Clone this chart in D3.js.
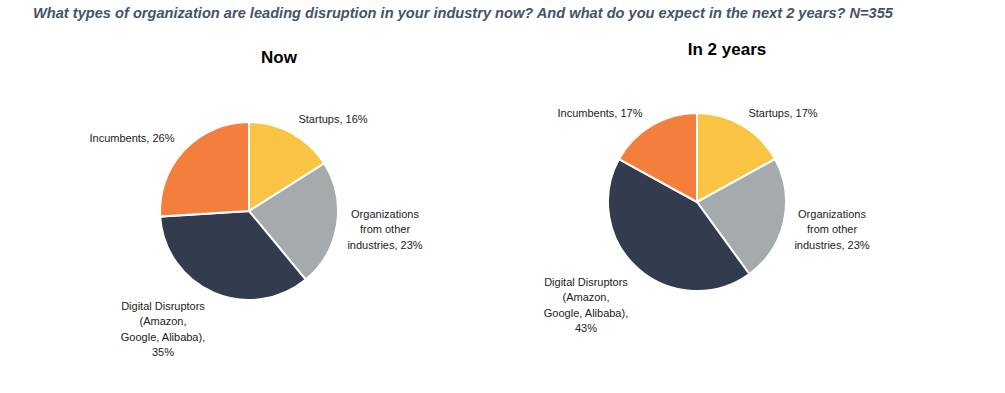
<!DOCTYPE html>
<meta charset="utf-8">
<style>
  body { margin: 0; background: #fff; }
  .label { font: 11px "Liberation Sans", sans-serif; fill: #222; }
  .ptitle { font: bold 17px "Liberation Sans", sans-serif; fill: #000; text-anchor: middle; }
</style>
<svg width="1005" height="393"></svg>
<script src="https://cdn.jsdelivr.net/npm/d3@7/dist/d3.min.js"></script>
<script>

  // data
  var categories = ["Startups", "Organizations from other industries", "Digital Disruptors (Amazon, Google, Alibaba)", "Incumbents"];
  var nowValues = [16, 23, 35, 26];
  var twoYearValues = [17, 23, 43, 17];
  var colors = ["#F9C343", "#A5AAAD", "#333B4E", "#F47F3C"];

  // label text lines for each chart
  var nowLabels = [
    ["Startups, 16%"],
    ["Organizations", "from other", "industries, 23%"],
    ["Digital Disruptors", "(Amazon,", "Google, Alibaba),", "35%"],
    ["Incumbents, 26%"]
  ];
  var twoYearLabels = [
    ["Startups, 17%"],
    ["Organizations", "from other", "industries, 23%"],
    ["Digital Disruptors", "(Amazon,", "Google, Alibaba),", "43%"],
    ["Incumbents, 17%"]
  ];

  var svg = d3.select("svg");

  svg.append("text")
    .attr("x", 33)
    .attr("y", 18)
    .attr("textLength", 860)
    .attr("lengthAdjust", "spacingAndGlyphs")
    .style("font", "italic bold 14px 'Liberation Sans', sans-serif")
    .style("fill", "#44546A")
    .text("What types of organization are leading disruption in your industry now? And what do you expect in the next 2 years? N=355");

  var radius = 89;
  var pie = d3.pie().sort(null).value(function (d) { return d; });
  var arc = d3.arc().innerRadius(0).outerRadius(radius);

  // layout: pie centers, title positions, label offsets (center of text block from pie center)
  var charts = [
    { title: "Now", values: nowValues, labels: nowLabels, cx: 249, cy: 211, tx: 279, ty: 63,
      offsets: [[84, -92], [136, 18], [-86, 118], [-117, -73]] },
    { title: "In 2 years", values: twoYearValues, labels: twoYearLabels, cx: 697, cy: 202, tx: 727, ty: 55,
      offsets: [[86, -89], [135, 27], [-111, 103], [-97, -89]] }
  ];

  var lineH = 15.5;

  charts.forEach(function (c) {
    svg.append("text")
      .attr("class", "ptitle")
      .attr("x", c.tx)
      .attr("y", c.ty)
      .text(c.title);

    var g = svg.append("g").attr("transform", "translate(" + c.cx + "," + c.cy + ")");

    g.selectAll("path")
      .data(pie(c.values))
      .enter().append("path")
      .attr("d", arc)
      .attr("fill", function (d, i) { return colors[i]; })
      .attr("stroke", "#fff")
      .attr("stroke-width", 2);

    c.labels.forEach(function (lines, i) {
      var off = c.offsets[i];
      var top = off[1] - (lines.length - 1) * lineH / 2 + 4;
      var t = g.append("text")
        .attr("class", "label")
        .attr("text-anchor", "middle");
      lines.forEach(function (l, j) {
        t.append("tspan")
          .attr("x", off[0])
          .attr("y", top + j * lineH)
          .text(l);
      });
    });
  });

</script>
